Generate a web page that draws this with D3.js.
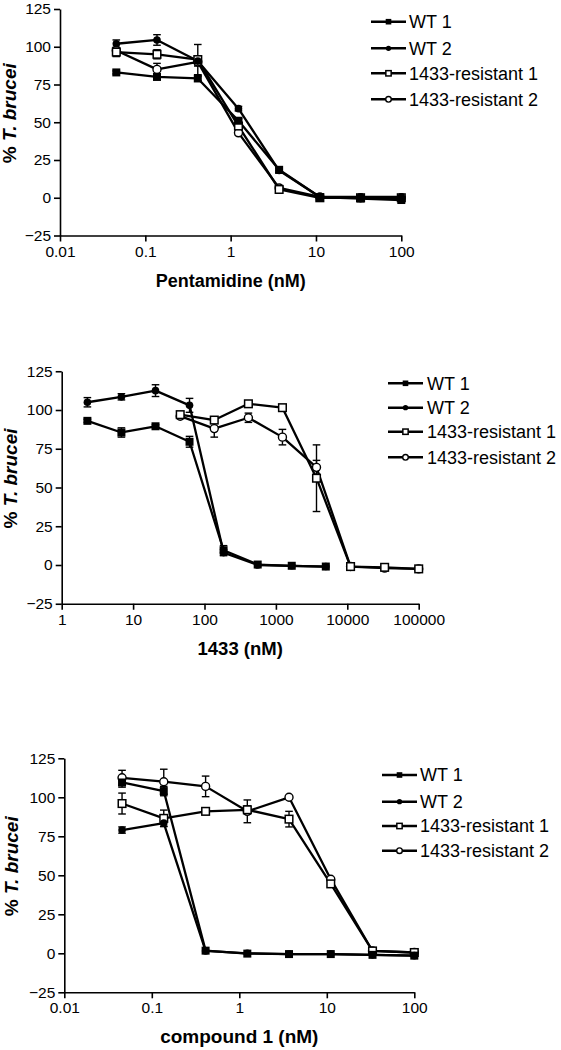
<!DOCTYPE html>
<html><head><meta charset="utf-8">
<script src="https://cdn.jsdelivr.net/npm/d3@7"></script>
<style>body{margin:0;background:#fff} svg{display:block}</style>
</head><body>
<svg id="chart" width="561" height="1050"></svg>
<script>
// ---------- data ----------
const seriesNames = ["WT 1", "WT 2", "1433-resistant 1", "1433-resistant 2"];
const yTicks = [-25, 0, 25, 50, 75, 100, 125];

// Panel 1: Pentamidine
const pentDose = [0.0457, 0.137, 0.412, 1.235, 3.70, 11.1, 33.3, 100];
const pentTicks = [0.01, 0.1, 1, 10, 100];
const pentTickLabels = ["0.01", "0.1", "1", "10", "100"];
const pentWT1 = [83, 80, 79, 51, 18.5, 0.5, -0.5, -1.5];
const pentWT1Err = [1, 1.5, 1.5, 1.5, 2, 0, 0, 0];
const pentWT2 = [102, 104.5, 90.5, 59, 18, 0.5, 0.5, 0.5];
const pentWT2Err = [2.5, 3.5, 3.3, 1.5, 1.5, 0, 0, 0];
const pentR1 = [96.5, 95, 91.5, 47.5, 5.5, 0, 0, 0];
const pentR1Err = [3, 3, 10, 1.5, 1, 0, 0, 0];
const pentR2 = [97.5, 85, 90, 43, 6.5, 0.5, 0, 0];
const pentR2Err = [2, 4, 2, 1.5, 1, 0, 0, 0];

// Panel 2: 1433
const wtDose1433 = [2.29, 6.86, 20.6, 61.7, 185, 556, 1667, 5000];
const resDose1433 = [45.7, 137, 412, 1235, 3704, 11111, 33333, 100000];
const ticks1433 = [1, 10, 100, 1000, 10000, 100000];
const tickLabels1433 = ["1", "10", "100", "1000", "10000", "100000"];
const c1433WT1 = [93, 85.5, 89.5, 79.5, 9.5, 0.3, -0.5, -1];
const c1433WT1Err = [1, 3, 1, 3.5, 3, 0, 0, 0];
const c1433WT2 = [105, 108.5, 112.5, 103, 8, 0, -0.5, -1];
const c1433WT2Err = [3, 2, 3.8, 4.5, 2, 0, 0, 0];
const c1433R1 = [97, 93.5, 104, 101.5, 56, -1, -1.5, -2.5];
const c1433R1Err = [2, 1.5, 1, 1, 21.5, 0, 0, 0];
const c1433R2 = [96, 88, 95, 82.5, 63, -1, -2, -2.5];
const c1433R2Err = [1, 5.5, 3, 5, 4.5, 0, 0, 0];

// Panel 3: compound 1
const cmpDose = [0.0457, 0.137, 0.412, 1.235, 3.70, 11.1, 33.3, 100];
const cmpTicks = [0.01, 0.1, 1, 10, 100];
const cmpTickLabels = ["0.01", "0.1", "1", "10", "100"];
const cmpWT1 = [109.5, 104, 1.7, -0.2, -0.5, -0.5, -1, -1.5];
const cmpWT1Err = [3, 3, 0, 0, 0, 0, 0, 0];
const cmpWT2 = [79, 83.5, 1.5, 0, -0.5, -0.5, -1, -1.5];
const cmpWT2Err = [2, 2, 0, 0, 0, 0, 0, 0];
const cmpR1 = [96, 86.5, 91, 92, 86, 44.5, 1.5, 0.5];
const cmpR1Err = [6.7, 5.3, 2, 2.5, 5, 1, 0, 0];
const cmpR2 = [112.5, 110, 107, 91, 100, 47.5, 1.5, 0.5];
const cmpR2Err = [4.8, 8, 6.6, 7.3, 0, 1, 0, 0];

// ---------- layout ----------
const FONT = "Arial, 'Liberation Sans', sans-serif";
const panels = [
  {
    xTitle: "Pentamidine (nM)", titleSize: 18,
    xDomain: [0.01, 100], xTicks: pentTicks, xTickLabels: pentTickLabels,
    xRange: [60, 401.3], yRange: [235.5, 9], yLabelX: 16,
    legend: {x0: 371, x1: 406, tx: 409, ys: [21.7, 48.3, 73.3, 99.3]},
    series: [
      {x: pentDose, y: pentWT1, e: pentWT1Err},
      {x: pentDose, y: pentWT2, e: pentWT2Err},
      {x: pentDose, y: pentR1, e: pentR1Err},
      {x: pentDose, y: pentR2, e: pentR2Err}
    ]
  },
  {
    xTitle: "1433 (nM)", titleSize: 18.5,
    xDomain: [1, 100000], xTicks: ticks1433, xTickLabels: tickLabels1433,
    xRange: [61.7, 418.7], yRange: [603.75, 371.25], yLabelX: 16.5,
    legend: {x0: 388, x1: 423, tx: 427, ys: [383.3, 407.7, 431.7, 457.3]},
    series: [
      {x: wtDose1433, y: c1433WT1, e: c1433WT1Err},
      {x: wtDose1433, y: c1433WT2, e: c1433WT2Err},
      {x: resDose1433, y: c1433R1, e: c1433R1Err},
      {x: resDose1433, y: c1433R2, e: c1433R2Err}
    ]
  },
  {
    xTitle: "compound 1 (nM)", titleSize: 19,
    xDomain: [0.01, 100], xTicks: cmpTicks, xTickLabels: cmpTickLabels,
    xRange: [64.3, 414.3], yRange: [992.3, 758.3], yLabelX: 18,
    legend: {x0: 382, x1: 417, tx: 420, ys: [775, 801.7, 826, 850.7]},
    series: [
      {x: cmpDose, y: cmpWT1, e: cmpWT1Err},
      {x: cmpDose, y: cmpWT2, e: cmpWT2Err},
      {x: cmpDose, y: cmpR1, e: cmpR1Err},
      {x: cmpDose, y: cmpR2, e: cmpR2Err}
    ]
  }
];

const svg = d3.select("#chart");

function drawMarker(g, type, cx, cy, s) {
  // type: 0 filled square, 1 filled circle, 2 open square, 3 open circle
  if (type === 0) {
    g.append("rect").attr("x", cx - 4 * s).attr("y", cy - 4 * s)
      .attr("width", 8 * s).attr("height", 8 * s).attr("fill", "#000");
  } else if (type === 1) {
    g.append("circle").attr("cx", cx).attr("cy", cy).attr("r", 3.8 * s).attr("fill", "#000");
  } else if (type === 2) {
    g.append("rect").attr("x", cx - 3.8 * s).attr("y", cy - 3.8 * s)
      .attr("width", 7.6 * s).attr("height", 7.6 * s)
      .attr("fill", "#fff").attr("stroke", "#000").attr("stroke-width", 1.5);
  } else {
    g.append("circle").attr("cx", cx).attr("cy", cy).attr("r", 4 * s)
      .attr("fill", "#fff").attr("stroke", "#000").attr("stroke-width", 1.4);
  }
}

panels.forEach(p => {
  const x = d3.scaleLog().domain(p.xDomain).range(p.xRange);
  const y = d3.scaleLinear().domain([-25, 125]).range(p.yRange);
  const g = svg.append("g");

  // axes
  const yAxis = d3.axisLeft(y).tickValues(yTicks).tickSize(6).tickSizeOuter(0).tickPadding(3);
  const xAxis = d3.axisBottom(x).tickValues(p.xTicks).tickSize(6).tickSizeOuter(0).tickPadding(4)
    .tickFormat((d, i) => p.xTickLabels[i]);
  const ya = g.append("g").attr("transform", `translate(${p.xRange[0]},0)`).call(yAxis);
  const xa = g.append("g").attr("transform", `translate(0,${p.yRange[0]})`).call(xAxis);
  [ya, xa].forEach(a => {
    a.selectAll("path,line").attr("stroke", "#000").attr("stroke-width", 1.6);
    a.selectAll("text").attr("font-family", FONT).attr("font-size", 15.5).attr("fill", "#000");
  });

  // axis titles
  g.append("text").attr("x", (p.xRange[0] + p.xRange[1]) / 2).attr("y", p.yRange[0] + 51)
    .attr("text-anchor", "middle").attr("font-family", FONT).attr("font-weight", "bold")
    .attr("font-size", p.titleSize).text(p.xTitle);
  const yl = g.append("text")
    .attr("transform", `translate(${p.yLabelX},${(p.yRange[0] + p.yRange[1]) / 2 - 9}) rotate(-90)`)
    .attr("text-anchor", "middle").attr("font-family", FONT).attr("font-weight", "bold")
    .attr("font-size", 19);
  yl.append("tspan").text("% ");
  yl.append("tspan").attr("font-style", "italic").text("T. brucei");

  // lines
  const line = d3.line().x(d => x(d[0])).y(d => y(d[1]));
  p.series.forEach(s => {
    const pts = s.x.map((v, i) => [v, s.y[i]]);
    g.append("path").attr("d", line(pts)).attr("fill", "none")
      .attr("stroke", "#000").attr("stroke-width", 2.3).attr("stroke-linejoin", "round");
  });

  // error bars
  p.series.forEach(s => {
    s.x.forEach((v, i) => {
      const e = s.e[i];
      if (!e) return;
      const cx = x(v), y1 = y(s.y[i] + e), y2 = y(s.y[i] - e);
      g.append("line").attr("x1", cx).attr("x2", cx).attr("y1", y1).attr("y2", y2)
        .attr("stroke", "#000").attr("stroke-width", 1.4);
      [y1, y2].forEach(yy => g.append("line").attr("x1", cx - 3.8).attr("x2", cx + 3.8)
        .attr("y1", yy).attr("y2", yy).attr("stroke", "#000").attr("stroke-width", 1.4));
    });
  });

  // markers, drawn R2, R1, WT2, WT1 so that order matches overlaps
  [3, 2, 1, 0].forEach(k => {
    const s = p.series[k];
    s.x.forEach((v, i) => drawMarker(g, k, x(v), y(s.y[i]), 1));
  });

  // legend
  const L = p.legend;
  seriesNames.forEach((name, k) => {
    const cy = L.ys[k];
    g.append("line").attr("x1", L.x0).attr("x2", L.x1).attr("y1", cy).attr("y2", cy)
      .attr("stroke", "#000").attr("stroke-width", 2.6);
    drawMarker(g, k, (L.x0 + L.x1) / 2, cy, 0.7);
    g.append("text").attr("x", L.tx).attr("y", cy).attr("dy", "0.36em")
      .attr("font-family", FONT).attr("font-size", 18).attr("fill", "#000").text(name);
  });
});
</script>
</body></html>
